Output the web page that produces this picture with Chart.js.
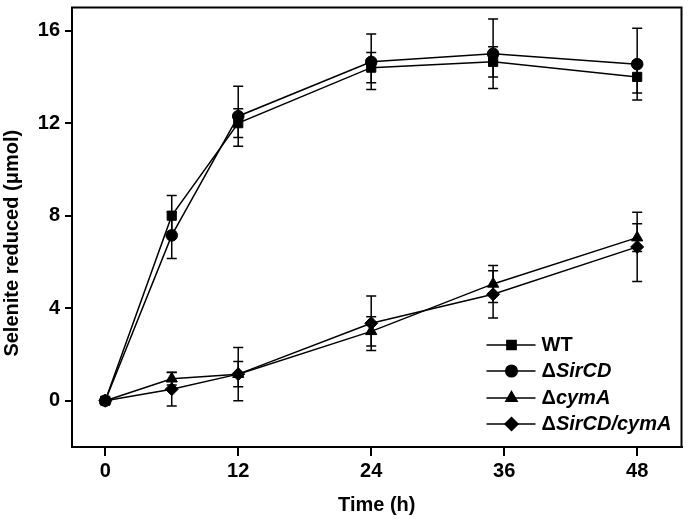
<!DOCTYPE html>
<html>
<head>
<meta charset="utf-8">
<script src="https://cdn.jsdelivr.net/npm/chart.js@4"></script>
<style>
  html, body { margin: 0; padding: 0; background: #fff; }
  #wrap { width: 689px; height: 521px; }
</style>
</head>
<body>
<div id="wrap"><canvas id="chart"></canvas></div>
<script>
// Selenite reduction over time
const timeH = [0, 6, 12, 24, 35, 48];
const xTicks = [0, 12, 24, 36, 48];
const yTicks = [0, 4, 8, 12, 16];

const wt       = [0, 8.0, 12.0, 14.4, 14.65, 14.0];
const wtErr    = [0, 0.87, 0.62, 0.65, 0.65, 0.7];
const sircd    = [0, 7.15, 12.3, 14.65, 15.0, 14.55];
const sircdErr = [0, 1.0, 1.3, 1.2, 1.5, 1.55];
const cyma     = [0, 0.95, 1.15, 3.0, 5.05, 7.05];
const cymaErr  = [0, 0.27, 0.55, 0.63, 0.8, 0.6];
const dko      = [0, 0.5, 1.15, 3.35, 4.6, 6.65];
const dkoErr   = [0, 0.73, 1.15, 1.18, 1.02, 1.5];

const seriesNames = ['WT', 'SirCD', 'cymA', 'SirCD/cymA'];
const seriesDelta = [false, true, true, true];
const yTitle = 'Selenite reduced (\u03bcmol)';

const FONT = '"Liberation Sans", Arial, Helvetica, sans-serif';

function pts(ys) {
    return timeH.map((t, i) => ({ x: t, y: ys[i] }));
}

function makeSet(label, ys, errs, shape, r) {
    return {
        label: label,
        data: pts(ys),
        errors: errs,
        borderColor: '#000',
        backgroundColor: '#000',
        borderWidth: 1.5,
        pointStyle: shape,
        pointRadius: r,
        pointHoverRadius: r,
        pointBackgroundColor: '#000',
        pointBorderColor: '#000',
        pointBorderWidth: 1,
        showLine: true,
        tension: 0
    };
}

// error bars, drawn under the points
const errorBars = {
    id: 'errorBars',
    beforeDatasetsDraw(chart) {
        const { ctx, scales: { x, y } } = chart;
        ctx.save();
        ctx.strokeStyle = '#000';
        ctx.lineWidth = 1.5;
        chart.data.datasets.forEach(ds => {
            ds.data.forEach((p, i) => {
                const e = ds.errors[i];
                if (!e) return;
                const px = x.getPixelForValue(p.x);
                const top = y.getPixelForValue(p.y + e);
                const bot = y.getPixelForValue(p.y - e);
                ctx.beginPath();
                ctx.moveTo(px, top); ctx.lineTo(px, bot);
                ctx.moveTo(px - 5, top); ctx.lineTo(px + 5, top);
                ctx.moveTo(px - 5, bot); ctx.lineTo(px + 5, bot);
                ctx.stroke();
            });
        });
        ctx.restore();
    }
};

// box frame, y title, legend inside bottom-right
const frameAndLegend = {
    id: 'frameAndLegend',
    afterDraw(chart) {
        const { ctx, chartArea: a } = chart;
        ctx.save();
        ctx.strokeStyle = '#000';
        ctx.lineWidth = 2;
        ctx.strokeRect(a.left, a.top, a.right - a.left, a.bottom - a.top);

        // y axis title (a bit below the axis centre, as in the figure)
        ctx.save();
        ctx.translate(12, (a.top + a.bottom) / 2 + 16);
        ctx.rotate(-Math.PI / 2);
        ctx.font = 'bold 20px ' + FONT;
        ctx.fillStyle = '#000';
        ctx.textAlign = 'center';
        ctx.textBaseline = 'middle';
        ctx.fillText(yTitle, 0, 0);
        ctx.restore();

        const rows = [102, 76, 49, 23];
        const lx0 = a.right - 195, lx1 = a.right - 146, mx = a.right - 170, tx = a.right - 140;
        chart.data.datasets.forEach((ds, i) => {
            const yy = a.bottom - rows[i];
            ctx.strokeStyle = '#000';
            ctx.lineWidth = 1.5;
            ctx.beginPath();
            ctx.moveTo(lx0, yy); ctx.lineTo(lx1, yy);
            ctx.stroke();
            Chart.helpers.drawPoint(ctx, {
                pointStyle: ds.pointStyle,
                radius: ds.pointRadius,
                borderWidth: 1,
                rotation: 0
            }, mx, yy);
            ctx.fillStyle = '#000';
            ctx.fill();
            ctx.textBaseline = 'middle';
            ctx.textAlign = 'left';
            let x = tx;
            if (seriesDelta[i]) {
                ctx.font = 'bold 20px ' + FONT;
                ctx.fillText('\u0394', x, yy);
                x += ctx.measureText('\u0394').width;
                ctx.font = 'italic bold 20px ' + FONT;
            } else {
                ctx.font = 'bold 20px ' + FONT;
            }
            ctx.fillText(seriesNames[i], x, yy);
        });
        ctx.restore();
    }
};

new Chart(document.getElementById('chart'), {
    type: 'scatter',
    data: {
        datasets: [
            makeSet('WT', wt, wtErr, 'rect', 6.5),
            makeSet('\u0394SirCD', sircd, sircdErr, 'circle', 5.8),
            makeSet('\u0394cymA', cyma, cymaErr, 'triangle', 6.5),
            makeSet('\u0394SirCD/cymA', dko, dkoErr, 'rectRot', 6.5)
        ]
    },
    options: {
        responsive: true,
        maintainAspectRatio: false,
        animation: false,
        layout: { padding: { top: 4, right: 6, left: 0, bottom: 0 } },
        plugins: {
            legend: { display: false },
            tooltip: { enabled: false }
        },
        scales: {
            x: {
                type: 'linear',
                min: -3,
                max: 52,
                afterBuildTicks: s => { s.ticks = xTicks.map(v => ({ value: v })); },
                afterFit: s => { s.height = 74; s.paddingLeft = 0; s.paddingRight = 0; },
                grid: { display: true, drawOnChartArea: false, drawTicks: true, tickLength: 9, color: '#000', lineWidth: 2 },
                border: { display: true, color: '#000', width: 2 },
                ticks: { color: '#000', font: { family: FONT, size: 20, weight: 'bold' }, padding: 3 },
                title: { display: true, text: 'Time (h)', color: '#000', font: { family: FONT, size: 20, weight: 'bold' }, padding: { top: 10, bottom: 4 } }
            },
            y: {
                min: -2,
                max: 17,
                afterBuildTicks: s => { s.ticks = yTicks.map(v => ({ value: v })); },
                afterFit: s => { s.width = 72; s.paddingTop = 0; s.paddingBottom = 0; },
                grid: { display: true, drawOnChartArea: false, drawTicks: true, tickLength: 7, color: '#000', lineWidth: 2 },
                border: { display: true, color: '#000', width: 2 },
                ticks: { color: '#000', font: { family: FONT, size: 20, weight: 'bold' }, padding: 5 },
                title: { display: false }
            }
        }
    },
    plugins: [errorBars, frameAndLegend]
});
</script>
</body>
</html>
